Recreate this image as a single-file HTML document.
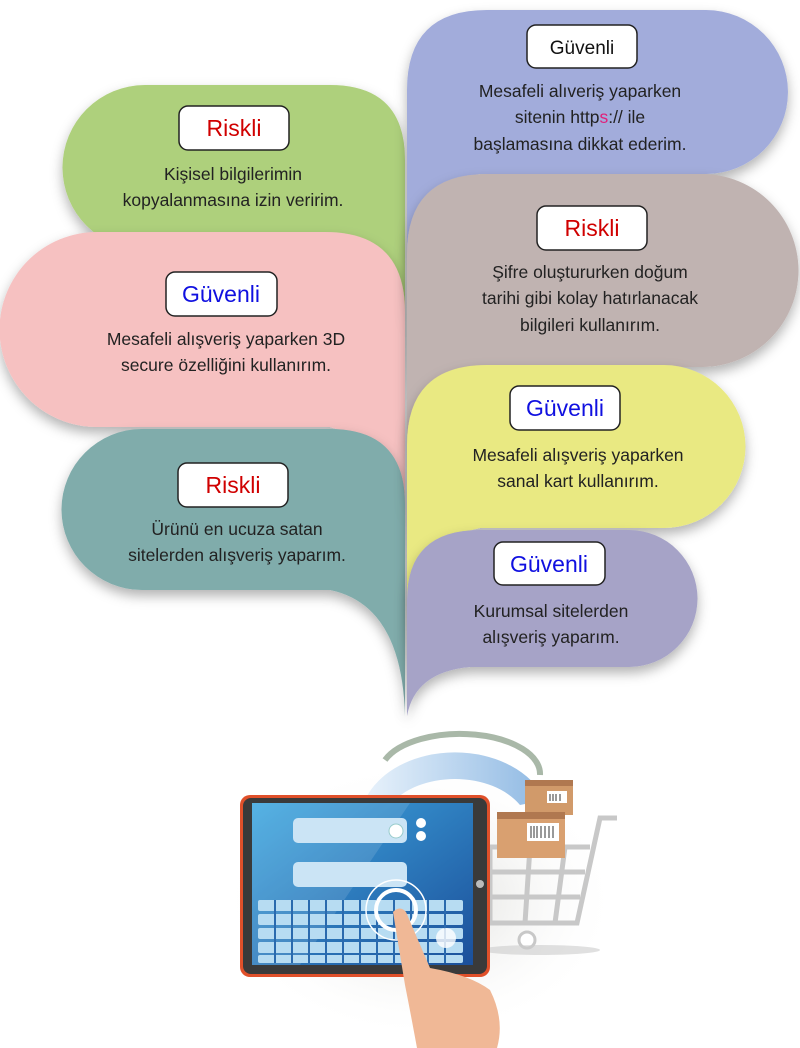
<!DOCTYPE html>
<html><head><meta charset="utf-8"><style>
html,body{margin:0;padding:0;background:#fff;}
svg{display:block;}
text{font-family:"Liberation Sans",sans-serif;}
</style></head><body>
<svg width="800" height="1048" viewBox="0 0 800 1048" xmlns="http://www.w3.org/2000/svg">
<defs>
<filter id="sh" x="-10%" y="-10%" width="130%" height="140%"><feDropShadow dx="0" dy="6" stdDeviation="6" flood-color="#000" flood-opacity="0.3"/></filter>
<radialGradient id="glow" cx="0.5" cy="0.5" r="0.5"><stop offset="0" stop-color="#d8d8d4"/><stop offset="1" stop-color="#fff" stop-opacity="0"/></radialGradient>
<linearGradient id="scr" x1="0" y1="0" x2="1" y2="1"><stop offset="0" stop-color="#3fa8e0"/><stop offset="1" stop-color="#1b4f9a"/></linearGradient>
<linearGradient id="arc" x1="0" y1="0" x2="1" y2="0"><stop offset="0" stop-color="#e8f2fb"/><stop offset="1" stop-color="#8fb9e3"/></linearGradient>
</defs>

<!-- left bubbles -->
<path filter="url(#sh)" fill="#aed07b" d="M145,85 H330 Q405,85 405,160 V420 Q400,270 330,250 H145 A82.5,82.5 0 0 1 145,85 Z"/>
<path filter="url(#sh)" fill="#f6c1c1" d="M97,232 H325 Q405,232 405,312 V600 Q400,445 330,427 H97 A97.5,97.5 0 0 1 97,232 Z"/>
<path filter="url(#sh)" fill="#80acab" d="M142,429 H330 Q405,429 405,504 V716 Q402,605 330,590 H142 A80.5,80.5 0 0 1 142,429 Z"/>

<!-- right bubbles -->
<path filter="url(#sh)" fill="#a2acdb" d="M487,10 H706 A82,82 0 0 1 706,174 H480 Q412,185 407,330 V90 Q407,10 487,10 Z"/>
<path filter="url(#sh)" fill="#c0b3b1" d="M487,174 H702 A96.5,96.5 0 0 1 702,367 H480 Q412,380 407,520 V254 Q407,174 487,174 Z"/>
<path filter="url(#sh)" fill="#e9e982" d="M487,365 H664 A81.5,81.5 0 0 1 664,528 H480 Q412,540 407,680 V445 Q407,365 487,365 Z"/>
<path filter="url(#sh)" fill="#a6a3c7" d="M480,530 H629 A68.5,68.5 0 0 1 629,667 H470 Q415,672 407,716 V600 Q407,530 480,530 Z"/>

<!-- labels -->
<g stroke="#222" stroke-width="1.5" fill="#fff">
<rect x="179" y="106" width="110" height="44" rx="9"/>
<rect x="166" y="272" width="111" height="44" rx="9"/>
<rect x="178" y="463" width="110" height="44" rx="9"/>
<rect x="527" y="25" width="110" height="43" rx="9"/>
<rect x="537" y="206" width="110" height="44" rx="9"/>
<rect x="510" y="386" width="110" height="44" rx="9"/>
<rect x="494" y="542" width="111" height="43" rx="9"/>
</g>
<g text-anchor="middle" font-size="23">
<text x="234" y="136" fill="#d00000">Riskli</text>
<text x="221" y="302" fill="#1010e0">Güvenli</text>
<text x="233" y="493" fill="#d00000">Riskli</text>
<text x="582" y="54" fill="#111" font-size="19">Güvenli</text>
<text x="592" y="236" fill="#d00000">Riskli</text>
<text x="565" y="416" fill="#1010e0">Güvenli</text>
<text x="549" y="572" fill="#1010e0">Güvenli</text>
</g>
<g text-anchor="middle" font-size="17.5" fill="#222">
<text x="233" y="180">Kişisel bilgilerimin</text>
<text x="233" y="206">kopyalanmasına izin veririm.</text>
<text x="226" y="345">Mesafeli alışveriş yaparken 3D</text>
<text x="226" y="371">secure özelliğini kullanırım.</text>
<text x="237" y="535">Ürünü en ucuza satan</text>
<text x="237" y="561">sitelerden alışveriş yaparım.</text>
<text x="580" y="97">Mesafeli alıveriş yaparken</text>
<text x="580" y="123">sitenin http<tspan fill="#e0207a">s</tspan>:// ile</text>
<text x="580" y="150">başlamasına dikkat ederim.</text>
<text x="590" y="278">Şifre oluştururken doğum</text>
<text x="590" y="304">tarihi gibi kolay hatırlanacak</text>
<text x="590" y="331">bilgileri kullanırım.</text>
<text x="578" y="461">Mesafeli alışveriş yaparken</text>
<text x="578" y="487">sanal kart kullanırım.</text>
<text x="551" y="617">Kurumsal sitelerden</text>
<text x="551" y="643">alışveriş yaparım.</text>
</g>

<!-- illustration -->
<ellipse cx="420" cy="900" rx="200" ry="140" fill="url(#glow)"/>
<path d="M365,800 A95,70 0 0 1 545,800 L520,805 A75,52 0 0 0 390,805 Z" fill="url(#arc)"/>
<path d="M385,760 A80,40 0 0 1 540,775" stroke="#a9b8a8" stroke-width="6" fill="none"/>
<g stroke="#c8c8c8" stroke-width="5" fill="none">
<path d="M617,818 L600,818 L577,923 L470,923"/>
<path d="M417,847 L590,847 M425,872 L585,872 M432,897 L580,897"/>
<path d="M450,847 L455,923 M490,847 L490,923 M530,847 L525,923 M565,847 L555,923"/>
</g>
<circle cx="527" cy="940" r="8" fill="#fff" stroke="#c8c8c8" stroke-width="3"/>
<ellipse cx="540" cy="950" rx="60" ry="5" fill="#ccc" opacity="0.6"/>
<rect x="525" y="780" width="48" height="35" fill="#d19a6a"/>
<rect x="525" y="780" width="48" height="6" fill="#b07850"/>
<rect x="547" y="791" width="20" height="12" fill="#fff"/>
<rect x="497" y="812" width="68" height="46" fill="#d9a070"/>
<rect x="497" y="812" width="68" height="7" fill="#b07850"/>
<rect x="527" y="823" width="32" height="18" fill="#fff"/>
<g stroke="#333" stroke-width="1"><path d="M531,826V838M534,826V838M537,826V838M541,826V838M545,826V838M549,826V838M553,826V838M550,794V801M553,794V801M556,794V801M560,794V801"/></g>
<rect x="240" y="795" width="250" height="182" rx="10" fill="#e0502a"/>
<rect x="243" y="798" width="244" height="176" rx="8" fill="#3a3a3a"/>
<rect x="252" y="803" width="221" height="162" fill="url(#scr)"/>
<path d="M252,803 H410 L300,965 H252 Z" fill="#fff" opacity="0.12"/>
<circle cx="480" cy="884" r="4" fill="#bbb"/>
<rect x="293" y="818" width="114" height="25" rx="5" fill="#cbe4f5"/>
<circle cx="396" cy="831" r="7" fill="#fff" stroke="#9cc" stroke-width="1"/>
<rect x="293" y="862" width="114" height="25" rx="5" fill="#cbe4f5"/>
<circle cx="421" cy="823" r="5" fill="#fff"/><circle cx="421" cy="836" r="5" fill="#fff"/>
<g fill="#b7dcf2">
<rect x="258" y="900" width="205" height="11" rx="2"/>
<rect x="258" y="914" width="205" height="11" rx="2"/>
<rect x="258" y="928" width="205" height="11" rx="2"/>
<rect x="258" y="942" width="205" height="11" rx="2"/>
<rect x="258" y="955" width="205" height="8" rx="2"/>
</g>
<g stroke="#2a6aae" stroke-width="2"><path d="M275,900V963M292,900V963M309,900V963M326,900V963M343,900V963M360,900V963M377,900V963M394,900V963M411,900V963M428,900V963M445,900V963"/></g>
<circle cx="396" cy="910" r="30" fill="none" stroke="#fff" stroke-width="1.5"/>
<circle cx="396" cy="910" r="20" fill="none" stroke="#fff" stroke-width="4"/>
<circle cx="446" cy="938" r="10" fill="#fff" opacity="0.8"/>
<path d="M393,912 Q400,905 406,912 L430,968 Q470,975 490,990 Q505,1020 497,1048 H417 Q410,1010 405,985 Z" fill="#f0b896"/>
</svg>
</body></html>
